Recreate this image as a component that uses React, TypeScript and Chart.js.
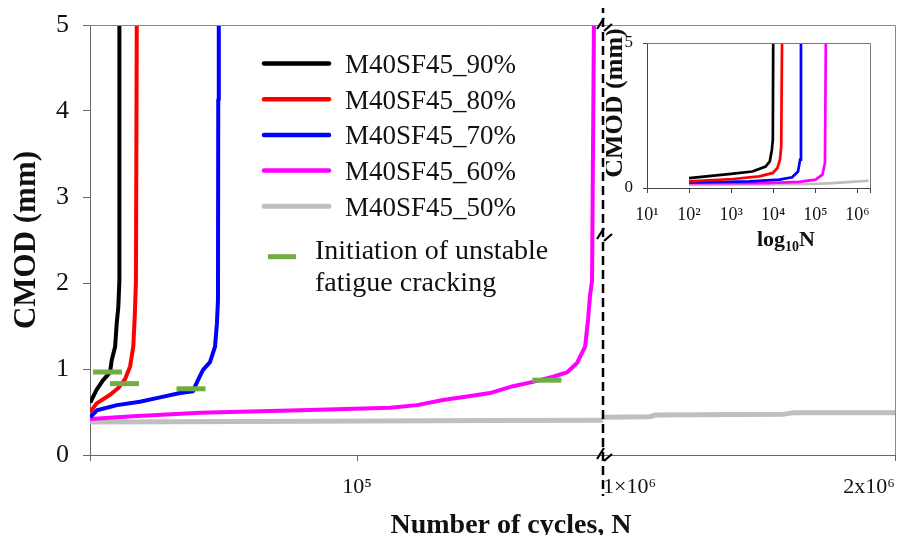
import React, { useEffect, useRef } from "react";
import { Chart, registerables } from "chart.js";

Chart.register(...registerables);

const SERIF = "'Liberation Serif', 'Times New Roman', serif";

// ---------- main chart data ----------
const seriesLabels = ["M40SF45_90%", "M40SF45_80%", "M40SF45_70%", "M40SF45_60%", "M40SF45_50%"];
const seriesColors = ["#000000", "#ff0000", "#0000ff", "#ff00ff", "#bfbfbf"];
const initiationColor = "#70ad47";
const initiationLabel = ["Initiation of unstable", "fatigue cracking"];

const n90 = [100, 2500, 4900, 7500, 8100, 9400, 10000, 10600, 11000, 11000];
const c90 = [0.61, 0.76, 0.87, 0.96, 1.1, 1.26, 1.53, 1.72, 2.03, 5.0];

const n80 = [100, 2500, 7500, 10600, 13100, 15000, 16200, 16800, 17200, 17500];
const c80 = [0.5, 0.6, 0.7, 0.78, 0.88, 1.03, 1.26, 1.65, 2.03, 5.0];

const n70 = [100, 2600, 10100, 18700, 26200, 33700, 38500, 40400, 42300, 44900, 46800, 47500, 47900, 48000, 48200];
const c70 = [0.44, 0.52, 0.58, 0.62, 0.67, 0.72, 0.74, 0.87, 0.99, 1.08, 1.26, 1.53, 1.8, 4.13, 5.0];

const n60 = [100, 16100, 41200, 78600, 112300, 122400, 132100, 141100, 149700, 158300, 165800, 173300, 178500, 182300, 185300, 186400, 187100, 187900, 188600];
const c60 = [0.42, 0.45, 0.49, 0.52, 0.55, 0.58, 0.64, 0.68, 0.72, 0.8, 0.85, 0.91, 0.96, 1.07, 1.26, 1.57, 1.84, 2.03, 5.0];

// 50% series: part before the axis break and part after it
const n50a = [100, 60000, 150000, 192000];
const c50a = [0.385, 0.39, 0.4, 0.405];
const n50b = [1000000, 1160000, 1180000, 1620000, 1650000, 2000000];
const c50b = [0.44, 0.445, 0.465, 0.475, 0.49, 0.49];

const initN = [6550, 12900, 37800, 171000];
const initCmod = [0.965, 0.83, 0.77, 0.87];

const yTicks = [0, 1, 2, 3, 4, 5];
const xLeftMax = 192000;
const xLeftTicks = [0, 100000];
const xLeftTickLabels = ["", "10⁵"];
const xRightTicks = [1000000, 2000000];
const xRightTickLabels = ["1×10⁶", "2x10⁶"];

// ---------- inset data (log scale) ----------
const in90N = [100, 1000, 3200, 6600, 8300, 9300, 9800, 10000];
const in90C = [0.34, 0.49, 0.57, 0.74, 0.92, 1.32, 1.67, 5.0];
const in80N = [100, 1100, 4700, 9800, 12600, 14500, 15500, 16200];
const in80C = [0.23, 0.31, 0.4, 0.52, 0.69, 0.98, 1.43, 5.0];
const in70N = [100, 2750, 14100, 28200, 38900, 43700, 45700];
const in70C = [0.19, 0.23, 0.29, 0.37, 0.57, 0.98, 5.0];
const in60N = [100, 6600, 41700, 102000, 148000, 170000, 178000];
const in60C = [0.17, 0.17, 0.21, 0.29, 0.46, 0.86, 5.0];
const in50N = [100, 102000, 251000, 741000, 1860000];
const in50C = [0.11, 0.14, 0.17, 0.21, 0.25];

const insetXTicks = [10, 100, 1000, 10000, 100000, 1000000, 2000000];
const insetXTickLabels = ["10¹", "10²", "10³", "10⁴", "10⁵", "10⁶", ""];
const insetYTicks = [0, 5];

const pts = (xs: number[], ys: number[]) => xs.map((x, i) => ({ x, y: ys[i] }));

const lineDs = (label: string, xs: number[], ys: number[], color: string, width: number, axis: string) => ({
  label,
  data: pts(xs, ys),
  borderColor: color,
  backgroundColor: color,
  borderWidth: width,
  pointRadius: 0,
  pointHoverRadius: 0,
  tension: 0,
  fill: false,
  xAxisID: axis,
  yAxisID: "y",
  borderJoinStyle: "round" as const,
});

const fixSize = (w: number | null, h: number | null) => (s: any) => {
  if (w !== null) s.width = w;
  if (h !== null) s.height = h;
  s.paddingTop = 0;
  s.paddingBottom = 0;
  s.paddingLeft = 0;
  s.paddingRight = 0;
};

const mainDecor = {
  id: "mainDecor",
  afterDraw(chart: any) {
    const ctx = chart.ctx as CanvasRenderingContext2D;
    const { left, top, right, bottom } = chart.chartArea;
    ctx.save();
    // top & right frame
    ctx.strokeStyle = "#888";
    ctx.lineWidth = 1;
    ctx.beginPath();
    ctx.moveTo(left, top + 0.5);
    ctx.lineTo(right + 0.5, top + 0.5);
    ctx.lineTo(right + 0.5, bottom);
    ctx.stroke();

    // axis break
    const bx = chart.scales.x1.right;
    ctx.strokeStyle = "#000";
    ctx.lineWidth = 2.5;
    ctx.setLineDash([9, 5]);
    ctx.beginPath();
    ctx.moveTo(bx, 4);
    ctx.lineTo(bx, 496);
    ctx.stroke();
    ctx.setLineDash([]);
    ctx.lineWidth = 2.2;
    const mark = (x: number, y: number) => {
      ctx.beginPath();
      ctx.moveTo(x - 6, y + 4);
      ctx.lineTo(x + 1, y - 7);
      ctx.moveTo(x + 1, y + 6);
      ctx.lineTo(x + 9, y - 1);
      ctx.stroke();
    };
    mark(bx, top);
    mark(bx, 235);
    mark(bx, bottom);

    // legend
    ctx.textAlign = "left";
    ctx.textBaseline = "alphabetic";
    ctx.fillStyle = "#111";
    ctx.font = `27px ${SERIF}`;
    seriesLabels.forEach((lab, i) => {
      const y = 63.5 + i * 35.7;
      ctx.strokeStyle = seriesColors[i];
      ctx.lineWidth = i === 4 ? 5 : 4.5;
      ctx.lineCap = "round";
      ctx.beginPath();
      ctx.moveTo(264, y);
      ctx.lineTo(329, y);
      ctx.stroke();
      ctx.fillText(lab, 345, y + 9.5);
    });
    ctx.lineCap = "butt";
    ctx.strokeStyle = initiationColor;
    ctx.lineWidth = 5;
    ctx.beginPath();
    ctx.moveTo(268, 256.7);
    ctx.lineTo(296, 256.7);
    ctx.stroke();
    ctx.font = `28px ${SERIF}`;
    ctx.fillText(initiationLabel[0], 315, 259);
    ctx.fillText(initiationLabel[1], 315, 291);

    // x axis title
    ctx.font = `bold 28px ${SERIF}`;
    ctx.textAlign = "center";
    ctx.fillText("Number of cycles, N", 511, 533);
    ctx.restore();
  },
};

const insetDecor = {
  id: "insetDecor",
  afterDraw(chart: any) {
    const ctx = chart.ctx as CanvasRenderingContext2D;
    const { left, top, right, bottom } = chart.chartArea;
    ctx.save();
    ctx.strokeStyle = "#777";
    ctx.lineWidth = 1;
    ctx.beginPath();
    ctx.moveTo(left, top + 0.5);
    ctx.lineTo(right + 0.5, top + 0.5);
    ctx.lineTo(right + 0.5, bottom);
    ctx.stroke();

    ctx.fillStyle = "#111";
    // y title
    ctx.save();
    ctx.translate(9, 76);
    ctx.rotate(-Math.PI / 2);
    ctx.font = `bold 26px ${SERIF}`;
    ctx.textAlign = "center";
    ctx.textBaseline = "middle";
    ctx.fillText("CMOD (mm)", 0, 0);
    ctx.restore();

    // x title log10N
    ctx.textBaseline = "alphabetic";
    ctx.textAlign = "left";
    const big = `bold 22px ${SERIF}`;
    const small = `bold 14px ${SERIF}`;
    ctx.font = big;
    const w1 = ctx.measureText("log").width;
    const w3 = ctx.measureText("N").width;
    ctx.font = small;
    const w2 = ctx.measureText("10").width;
    let x = 180 - (w1 + w2 + w3) / 2;
    const base = 219;
    ctx.font = big;
    ctx.fillText("log", x, base);
    x += w1;
    ctx.font = small;
    ctx.fillText("10", x, base + 5);
    x += w2;
    ctx.font = big;
    ctx.fillText("N", x, base);
    ctx.restore();
  },
};

export default function App() {
  const mainRef = useRef<HTMLCanvasElement>(null);
  const insetRef = useRef<HTMLCanvasElement>(null);

  useEffect(() => {
    const tickFont = { family: SERIF, size: 22 };
    const main = new Chart(mainRef.current as HTMLCanvasElement, {
      type: "line",
      data: {
        datasets: [
          {
            label: initiationLabel.join(" "),
            data: pts(initN, initCmod),
            showLine: false,
            pointStyle: "line",
            pointRadius: 14.5,
            pointHoverRadius: 14.5,
            pointBorderWidth: 5,
            pointBorderColor: initiationColor,
            borderColor: initiationColor,
            backgroundColor: initiationColor,
            xAxisID: "x1",
            yAxisID: "y",
          } as any,
          lineDs(seriesLabels[0], n90, c90, seriesColors[0], 4, "x1"),
          lineDs(seriesLabels[1], n80, c80, seriesColors[1], 4, "x1"),
          lineDs(seriesLabels[2], n70, c70, seriesColors[2], 4, "x1"),
          lineDs(seriesLabels[3], n60, c60, seriesColors[3], 4, "x1"),
          lineDs(seriesLabels[4], n50a, c50a, seriesColors[4], 5, "x1"),
          lineDs(seriesLabels[4], n50b, c50b, seriesColors[4], 5, "x2"),
        ],
      },
      options: {
        responsive: false,
        animation: false,
        devicePixelRatio: 1,
        layout: { autoPadding: false, padding: { top: 25, right: 12, left: 8, bottom: 0 } },
        plugins: { legend: { display: false }, tooltip: { enabled: false } },
        scales: {
          x1: {
            type: "linear",
            position: "bottom",
            stack: "xs",
            stackWeight: 513,
            min: 0,
            max: xLeftMax,
            afterBuildTicks: (s: any) => {
              s.ticks = xLeftTicks.map((v) => ({ value: v }));
            },
            afterFit: fixSize(null, 88),
            ticks: {
              autoSkip: false,
              maxRotation: 0,
              padding: 13,
              color: "#111",
              font: tickFont,
              callback: (_v: any, i: number) => xLeftTickLabels[i],
            },
            grid: { drawOnChartArea: false, tickLength: 6, color: "#666", tickColor: "#666" },
            border: { color: "#666", width: 1 },
          },
          x2: {
            type: "linear",
            position: "bottom",
            stack: "xs",
            stackWeight: 292,
            min: 1000000,
            max: 2000000,
            afterBuildTicks: (s: any) => {
              s.ticks = xRightTicks.map((v) => ({ value: v }));
            },
            afterFit: fixSize(null, 88),
            ticks: {
              autoSkip: false,
              maxRotation: 0,
              padding: 13,
              align: "inner",
              color: "#111",
              font: tickFont,
              callback: (_v: any, i: number) => xRightTickLabels[i],
            },
            grid: { drawOnChartArea: false, tickLength: 6, color: "#666", tickColor: "#666" },
            border: { color: "#666", width: 1 },
          },
          y: {
            type: "linear",
            position: "left",
            min: 0,
            max: 5,
            afterBuildTicks: (s: any) => {
              s.ticks = yTicks.map((v) => ({ value: v }));
            },
            afterFit: fixSize(82, null),
            ticks: { padding: 14, color: "#111", font: { family: SERIF, size: 26 } },
            grid: { drawOnChartArea: false, tickLength: 7, color: "#666", tickColor: "#666" },
            border: { color: "#666", width: 1 },
            title: {
              display: true,
              text: "CMOD (mm)",
              color: "#111",
              padding: 0,
              font: { family: SERIF, size: 31, weight: "bold" },
            },
          },
        } as any,
      },
      plugins: [mainDecor],
    } as any);

    const insetDs = (xs: number[], ys: number[], color: string) => ({
      data: pts(xs, ys),
      borderColor: color,
      backgroundColor: color,
      borderWidth: 2.7,
      pointRadius: 0,
      pointHoverRadius: 0,
      tension: 0,
      fill: false,
    });

    const inset = new Chart(insetRef.current as HTMLCanvasElement, {
      type: "line",
      data: {
        datasets: [
          insetDs(in90N, in90C, seriesColors[0]),
          insetDs(in80N, in80C, seriesColors[1]),
          insetDs(in70N, in70C, seriesColors[2]),
          insetDs(in60N, in60C, seriesColors[3]),
          insetDs(in50N, in50C, seriesColors[4]),
        ],
      },
      options: {
        responsive: false,
        animation: false,
        devicePixelRatio: 1,
        layout: { autoPadding: false, padding: { top: 16, right: 25, left: 0, bottom: 0 } },
        plugins: { legend: { display: false }, tooltip: { enabled: false } },
        scales: {
          x: {
            type: "logarithmic",
            min: 10,
            max: 2000000,
            afterBuildTicks: (s: any) => {
              s.ticks = insetXTicks.map((v) => ({ value: v }));
            },
            afterFit: fixSize(null, 74),
            ticks: {
              autoSkip: false,
              maxRotation: 0,
              padding: 11,
              color: "#111",
              font: { family: SERIF, size: 18 },
              callback: (_v: any, i: number) => insetXTickLabels[i],
            },
            grid: { drawOnChartArea: false, tickLength: 5, color: "#444", tickColor: "#444" },
            border: { color: "#444", width: 1 },
          },
          y: {
            type: "linear",
            min: 0,
            max: 5,
            afterBuildTicks: (s: any) => {
              s.ticks = insetYTicks.map((v) => ({ value: v }));
            },
            afterFit: fixSize(41, null),
            ticks: { padding: 10, color: "#111", font: { family: SERIF, size: 17 } },
            grid: { drawOnChartArea: false, tickLength: 4, color: "#444", tickColor: "#444" },
            border: { color: "#444", width: 1 },
          },
        } as any,
      },
      plugins: [insetDecor],
    } as any);

    return () => {
      main.destroy();
      inset.destroy();
    };
  }, []);

  return (
    <div style={{ position: "relative", width: 907, height: 543, margin: -8 }}>
      <canvas
        ref={mainRef}
        width={907}
        height={543}
        style={{ position: "absolute", left: 0, top: 0, width: 907, height: 543 }}
      />
      <canvas
        ref={insetRef}
        width={289}
        height={235}
        style={{ position: "absolute", left: 606, top: 27, width: 289, height: 235 }}
      />
    </div>
  );
}
